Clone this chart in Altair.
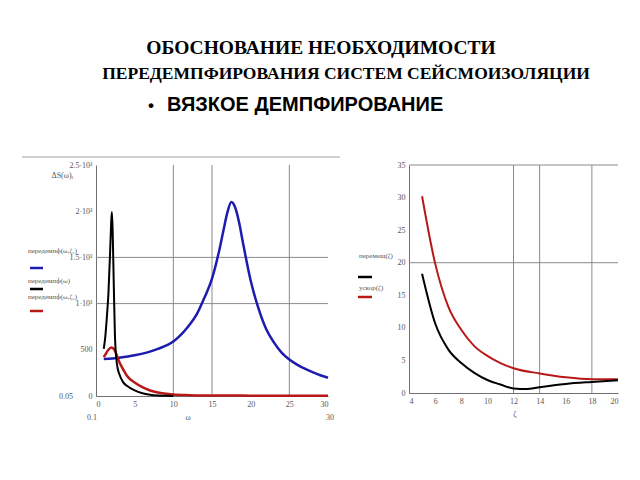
import altair as alt
import pandas as pd

# ---------------- data ----------------
# left panel: response vs frequency omega
blue_x = [1, 3, 5, 8, 10, 12, 13, 14, 15, 16, 16.5, 17, 17.5, 18, 18.5, 19, 20, 21, 22, 23, 24, 25, 26, 27, 28, 29, 30]
blue_y = [400, 415, 440, 510, 590, 760, 880, 1060, 1270, 1600, 1800, 1990, 2100, 2040, 1880, 1660, 1250, 950, 725, 580, 470, 395, 340, 295, 258, 225, 198]

black_x = [1.0, 1.2, 1.4, 1.6, 1.8, 1.95, 2.05, 2.15, 2.3, 2.45, 2.6, 2.8, 3.0, 3.5, 4.0, 5.0, 6.0, 7.0, 8.0, 9.0, 10.0]
black_y = [510, 640, 850, 1100, 1500, 1850, 1990, 1800, 1200, 650, 430, 300, 240, 150, 110, 60, 30, 14, 6, 3, 1]

red_x = [1.0, 1.3, 1.6, 2.0, 2.3, 2.6, 3.0, 3.5, 4.0, 5.0, 6.0, 7.0, 8.0, 9.0, 10.0, 12, 15, 20, 25, 30]
red_y = [420, 460, 500, 525, 510, 460, 370, 290, 220, 145, 95, 60, 38, 25, 15, 9, 6, 4, 3, 3]

# right panel: vs damping parameter
r_black_x = [5, 6, 7, 8, 9, 10, 11, 12, 13, 14, 16, 18, 20]
r_black_y = [18.3, 10.7, 6.7, 4.6, 3.1, 2.0, 1.3, 0.7, 0.6, 0.9, 1.4, 1.7, 1.95]
r_red_x = [5, 6, 7, 8, 9, 10, 11, 12, 14, 16, 18, 20]
r_red_y = [30.2, 19.9, 13.3, 9.7, 7.2, 5.7, 4.6, 3.8, 3.0, 2.4, 2.1, 2.1]

left_xticks = [0, 5, 10, 15, 20, 25, 30]
left_yticks = [0, 500, 1000, 1500, 2000, 2500]
left_vgrid = [10, 15, 25]
left_hgrid = [1000, 1500]
right_xticks = [4, 6, 8, 10, 12, 14, 16, 18, 20]
right_yticks = [0, 5, 10, 15, 20, 25, 30, 35]
right_vgrid = [12, 14, 18]
right_hgrid = [20, 35]

title1 = "ОБОСНОВАНИЕ НЕОБХОДИМОСТИ"
title2 = "ПЕРЕДЕМПФИРОВАНИЯ СИСТЕМ СЕЙСМОИЗОЛЯЦИИ"
bullet_text = "ВЯЗКОЕ ДЕМПФИРОВАНИЕ"
left_legend = ["передемпф(ω,ζ₁)", "передемпф(ω)", "передемпф(ω,ζ₂)"]
right_legend = ["перемещ(ζ)", "ускор(ζ)"]

# ---------------- helpers ----------------
SERIF = "Liberation Serif"
LAB = "#555555"
GRID = "#8a8a8a"
BLUE = "#1c1cae"
RED = "#b81818"

LW, LH = 232, 231
RW, RH = 209, 228

dummy = pd.DataFrame({"d": [0]})


def axis(values, expr=None):
    kw = dict(values=values, grid=False, ticks=False, domainColor="#707070", domainWidth=1,
              labelFont=SERIF, labelFontSize=8, labelColor=LAB, labelPadding=4, title=None,
              labelOverlap=False)
    if expr:
        kw["labelExpr"] = expr
    return alt.Axis(**kw)


def text(t, x, y, size=8, align="left", font=SERIF, weight="normal", color=LAB):
    return alt.Chart(dummy).mark_text(text=t, align=align, baseline="alphabetic", fontSize=size,
                                      font=font, fontWeight=weight, color=color).encode(
        x=alt.value(x), y=alt.value(y))


def seg(x1, x2, y, color, width=2.5):
    return alt.Chart(dummy).mark_rule(color=color, strokeWidth=width).encode(
        x=alt.value(x1), x2=alt.value(x2), y=alt.value(y))


def line(xs, ys, color, width, xsc, ysc, xax, yax):
    df = pd.DataFrame({"x": xs, "y": ys})
    return alt.Chart(df).mark_line(color=color, strokeWidth=width, interpolate="monotone").encode(
        x=alt.X("x:Q", scale=xsc, axis=xax), y=alt.Y("y:Q", scale=ysc, axis=yax))


# ---------------- left panel ----------------
xL = alt.Scale(domain=[0, 30], nice=False, zero=False)
yL = alt.Scale(domain=[0, 2500], nice=False)
yexpr = "datum.value == 0 ? '0' : datum.value < 1000 ? datum.value : (datum.value/1000) + '·10³'"
axLx = axis(left_xticks)
axLy = axis(left_yticks, yexpr)

vg = alt.Chart(pd.DataFrame({"g": left_vgrid})).mark_rule(color=GRID, strokeWidth=1).encode(
    x=alt.X("g:Q", scale=xL, axis=axLx))
hg = alt.Chart(pd.DataFrame({"g": left_hgrid})).mark_rule(color=GRID, strokeWidth=1).encode(
    y=alt.Y("g:Q", scale=yL, axis=axLy))

left = alt.layer(
    # invisible frame fixing the page extent (640x480) for autosize
    alt.Chart(dummy).mark_rule(opacity=0).encode(
        x=alt.value(-96), x2=alt.value(544), y=alt.value(-165), y2=alt.value(315)),
    vg, hg,
    line(blue_x, blue_y, BLUE, 2.5, xL, yL, axLx, axLy),
    line(red_x, red_y, RED, 2.5, xL, yL, axLx, axLy),
    line(black_x, black_y, "#000000", 2, xL, yL, axLx, axLy),
    # top separator line
    seg(-74, 244, -8, "#d0d0d0", 2),
    # titles
    text(title1, 225, -111, size=19.5, align="center", weight="bold", color="#000000"),
    text(title2, 250, -86, size=17.5, align="center", weight="bold", color="#000000"),
    text("•", 52, -54, size=17, align="left", font="Liberation Sans", weight="bold", color="#000000"),
    text(bullet_text, 71, -54, size=20, align="left", font="Liberation Sans", weight="bold", color="#000000"),
    # mathcad-like legend
    text(left_legend[0], -68, 88, size=7), seg(-66, -53, 103, BLUE),
    text(left_legend[1], -68, 118, size=7), seg(-66, -53, 124, "#000000"),
    text(left_legend[2], -68, 134, size=7), seg(-66, -53, 146, RED),
    text("ΔS(ω)ᵢ", -23, 13, align="right"),
    text("0.05", -23, 234, align="right"),
    text("0.1", -9, 255, align="left"),
    text("ω", 92, 255, align="center"),
    text("30", 234, 255, align="center"),
).properties(width=LW, height=LH)

# ---------------- right panel ----------------
xR = alt.Scale(domain=[4, 20], nice=False, zero=False)
yR = alt.Scale(domain=[0, 35], nice=False)
axRx = axis(right_xticks)
axRy = axis(right_yticks)

rvg = alt.Chart(pd.DataFrame({"g": right_vgrid})).mark_rule(color=GRID, strokeWidth=1).encode(
    x=alt.X("g:Q", scale=xR, axis=axRx))
rhg = alt.Chart(pd.DataFrame({"g": right_hgrid})).mark_rule(color=GRID, strokeWidth=1).encode(
    y=alt.Y("g:Q", scale=yR, axis=axRy))

right = alt.layer(
    rvg, rhg,
    line(r_red_x, r_red_y, RED, 2, xR, yR, axRx, axRy),
    line(r_black_x, r_black_y, "#000000", 2, xR, yR, axRx, axRy),
    text(right_legend[0], -50, 93, size=7), seg(-51, -37, 112, "#000000"),
    text(right_legend[1], -50, 125, size=7), seg(-51, -37, 132, RED),
    text("ζ", 106, 252, align="center"),
).properties(width=RW, height=RH)

chart = alt.hconcat(left, right, spacing=81, bounds="flush").properties(
    padding=0, background="white"
).configure_view(strokeWidth=0)

chart.save("out.html", embed_options={"renderer": "svg", "actions": False})
